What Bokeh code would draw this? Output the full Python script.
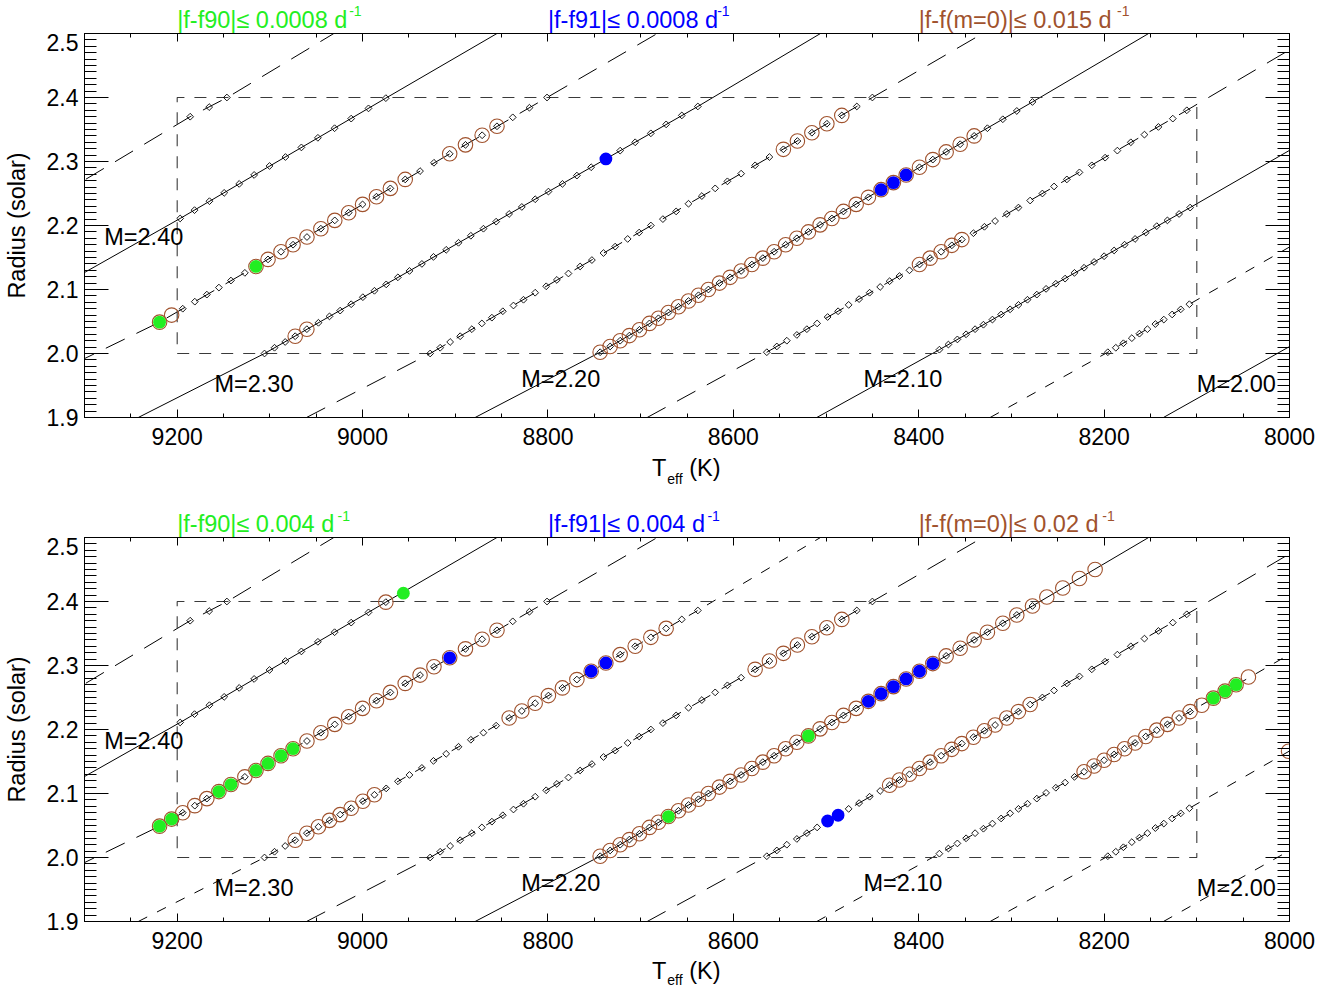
import numpy as np
from bokeh.plotting import figure
from bokeh.models import (Range1d, FixedTicker, LinearAxis,
                          PrintfTickFormatter, CustomJSTickFormatter)
from bokeh.core.properties import value
from bokeh.layouts import column
from bokeh.embed import file_html
from bokeh.resources import INLINE

# ------------------------------------------------------------------ data
x_major_ticks = [8000, 8200, 8400, 8600, 8800, 9000, 9200]
x_minor_ticks = [8050, 8100, 8150, 8250, 8300, 8350, 8450, 8500, 8550, 8650,
                 8700, 8750, 8850, 8900, 8950, 9050, 9100, 9150, 9250]
y_major_ticks = [1.9, 2.0, 2.1, 2.2, 2.3, 2.4, 2.5]
y_minor_ticks = [round(1.9 + 0.01 * i, 2) for i in range(61)]

box_T = [9200, 8100, 8100, 9200, 9200]
box_R = [2.0, 2.0, 2.4, 2.4, 2.0]

track_names = ["A", "B", "C", "D", "E", "F", "G", "H", "I", "J"]

# track curves (Teff, Radius) vertices
line_T = {
    "A": [9330, 9186, 9146, 9031],
    "B": [9330, 9196.8, 8974.9, 8855],
    "C": [9310, 9219, 8801, 8682],
    "D": [9242, 9105.8, 8638.3, 8506],
    "E": [9060.5, 8927.1, 8450, 8331],
    "F": [8878.6, 8743.7, 8277.3, 8152],
    "G": [8693, 8563.9, 8110.8, 7970],
    "H": [8510, 8377.7, 8107.2, 7781],
    "I": [8323, 8196, 8108, 7597],
    "J": [8136, 8001, 7400],
}
line_R = {
    "A": [2.245, 2.370, 2.400, 2.500],
    "B": [2.102, 2.211, 2.399, 2.500],
    "C": [1.985, 2.049, 2.400, 2.500],
    "D": [1.900, 2.000, 2.386, 2.500],
    "E": [1.900, 2.000, 2.400, 2.500],
    "F": [1.900, 2.002, 2.393, 2.500],
    "G": [1.900, 2.002, 2.380, 2.500],
    "H": [1.900, 2.006, 2.228, 2.500],
    "I": [1.900, 2.002, 2.077, 2.500],
    "J": [1.900, 2.010, 2.500],
}

# model points along each track
A_T = [9186, 9165.5, 9146.4]
A_R = [2.370, 2.385, 2.400]
B_T = [9196.8, 9181.3, 9165.2, 9149.3, 9133.1, 9117.0, 9100.4, 9083.2, 9066.0,
       9048.2, 9030.2, 9012.3, 8993.6, 8974.9, 8956.0]
B_R = [2.211, 2.224, 2.238, 2.251, 2.265, 2.279, 2.293, 2.307, 2.322, 2.337,
       2.352, 2.367, 2.383, 2.399, 2.413]
C_T = [9219, 9206, 9194, 9181, 9168, 9155, 9142, 9127, 9115, 9102, 9088, 9075,
       9060, 9045, 9030, 9015, 9000, 8985, 8970, 8954, 8938, 8923, 8906, 8889,
       8871, 8855, 8838, 8820, 8801]
C_R = [2.049, 2.060, 2.070, 2.081, 2.092, 2.103, 2.114, 2.126, 2.136, 2.147,
       2.159, 2.170, 2.182, 2.195, 2.208, 2.220, 2.233, 2.245, 2.258, 2.272,
       2.285, 2.298, 2.312, 2.326, 2.341, 2.355, 2.369, 2.384, 2.400]
D_T = [9105.8, 9095.0, 9083.5, 9072.7, 9060.1, 9047.6, 9035.7, 9024.2, 9012.3,
       8999.7, 8987.2, 8974.5, 8961.9, 8949.4, 8936.0, 8923.5, 8909.8, 8896.5,
       8883.2, 8869.6, 8855.9, 8841.9, 8828.2, 8813.8, 8799.5, 8784.4, 8768.8,
       8753.4, 8737.5, 8722.1, 8705.9, 8689.0, 8672.5, 8655.6, 8638.3]
D_R = [2.000, 2.009, 2.018, 2.027, 2.038, 2.048, 2.058, 2.067, 2.077, 2.088,
       2.098, 2.108, 2.119, 2.129, 2.140, 2.151, 2.162, 2.173, 2.184, 2.195,
       2.206, 2.218, 2.229, 2.241, 2.253, 2.265, 2.278, 2.291, 2.304, 2.317,
       2.330, 2.344, 2.358, 2.372, 2.386]
E_T = [8927.1, 8916.3, 8905.5, 8894.7, 8882.1, 8871.3, 8860.5, 8848.7, 8837.2,
       8826.4, 8813.8, 8801.9, 8790.4, 8777.9, 8765.3, 8752.6, 8740.1, 8727.5,
       8714.0, 8701.6, 8689.0, 8676.0, 8661.7, 8648.4, 8634.0, 8619.6, 8606.4,
       8591.6, 8576.5, 8561.1, 8546.0, 8530.9, 8515.3, 8499.1, 8483.0, 8466.8,
       8450.0]
E_R = [2.000, 2.009, 2.018, 2.027, 2.038, 2.047, 2.056, 2.066, 2.075, 2.084,
       2.095, 2.105, 2.115, 2.125, 2.136, 2.146, 2.157, 2.167, 2.179, 2.189,
       2.200, 2.210, 2.222, 2.234, 2.246, 2.258, 2.269, 2.281, 2.294, 2.307,
       2.319, 2.332, 2.345, 2.359, 2.372, 2.386, 2.400]
F_T = [8743.7, 8732.9, 8722.1, 8712.1, 8701.3, 8690.5, 8680.8, 8670.0, 8659.2,
       8648.4, 8637.6, 8626.9, 8615.0, 8603.5, 8591.6, 8580.0, 8568.2, 8556.0,
       8543.6, 8531.5, 8519.0, 8506.4, 8493.7, 8481.2, 8467.5, 8454.3, 8440.6,
       8427.3, 8413.6, 8399.2, 8384.8, 8370.4, 8355.3, 8340.2, 8325.9, 8309.3,
       8294.2, 8277.3, 8261.8, 8244.6, 8226.6, 8209.7]
F_R = [2.002, 2.011, 2.020, 2.028, 2.037, 2.047, 2.055, 2.064, 2.073, 2.082,
       2.091, 2.100, 2.110, 2.119, 2.129, 2.139, 2.149, 2.159, 2.170, 2.180,
       2.190, 2.201, 2.211, 2.222, 2.233, 2.244, 2.256, 2.267, 2.279, 2.291,
       2.303, 2.315, 2.327, 2.340, 2.352, 2.366, 2.379, 2.393, 2.407, 2.421,
       2.436, 2.450]
G_T = [8563.9, 8553.1, 8542.3, 8531.5, 8520.7, 8509.6, 8498.3, 8487.0, 8475.6,
       8464.3, 8453.0, 8441.6, 8431.4, 8420.8, 8410.0, 8399.2, 8387.7, 8375.8,
       8364.3, 8353.5, 8341.0, 8329.1, 8317.6, 8305.0, 8292.4, 8279.8, 8266.6,
       8254.0, 8240.2, 8226.6, 8213.3, 8198.9, 8185.7, 8171.2, 8156.5, 8141.4,
       8125.9, 8110.8]
G_R = [2.002, 2.011, 2.020, 2.029, 2.038, 2.047, 2.057, 2.066, 2.076, 2.085,
       2.095, 2.104, 2.113, 2.121, 2.130, 2.139, 2.149, 2.159, 2.169, 2.178,
       2.188, 2.198, 2.207, 2.218, 2.228, 2.239, 2.250, 2.261, 2.272, 2.283,
       2.294, 2.306, 2.317, 2.330, 2.342, 2.354, 2.367, 2.380]
H_T = [8377.7, 8368.0, 8358.3, 8348.9, 8339.2, 8330.2, 8320.5, 8311.1, 8301.4,
       8292.4, 8282.7, 8272.6, 8262.6, 8252.1, 8242.1, 8232.0, 8221.6, 8210.8,
       8200.0, 8189.2, 8177.9, 8166.6, 8155.0, 8143.2, 8131.7, 8119.1, 8107.2,
       8094.6, 8082.1, 8069.5, 8057.6, 8044.3]
H_R = [2.006, 2.014, 2.022, 2.030, 2.038, 2.045, 2.053, 2.061, 2.069, 2.076,
       2.084, 2.092, 2.101, 2.109, 2.117, 2.126, 2.134, 2.143, 2.152, 2.161,
       2.170, 2.179, 2.189, 2.199, 2.208, 2.218, 2.228, 2.238, 2.249, 2.260,
       2.270, 2.282]
I_T = [8196.0, 8187.4, 8179.2, 8170.1, 8161.9, 8153.3, 8144.7, 8135.6, 8126.6,
       8117.3, 8108.0, 8001.0]
I_R = [2.002, 2.009, 2.016, 2.024, 2.031, 2.038, 2.046, 2.053, 2.061, 2.069,
       2.077, 2.166]

model_T = {"A": A_T, "B": B_T, "C": C_T, "D": D_T, "E": E_T, "F": F_T,
           "G": G_T, "H": H_T, "I": I_T, "J": []}
model_R = {"A": A_R, "B": B_R, "C": C_R, "D": D_R, "E": E_R, "F": F_R,
           "G": G_R, "H": H_R, "I": I_R, "J": []}

mass_labels = ["M=2.40", "M=2.30", "M=2.20", "M=2.10", "M=2.00"]

# selected models (indices into each track's model list)
top_brown = {"C": [0, 1, 8, 9, 10, 11, 12, 13, 14, 15, 16, 17, 18, 19, 22, 23, 24, 25],
             "D": [3, 4], "E": [30, 31, 32, 33, 34], "F": list(range(0, 34)),
             "G": [15, 16, 17, 18, 19]}
top_green = {"C": [0, 8]}
top_blue = {"D": [28], "F": [26, 27, 28]}

bot_brown = {"B": [13], "C": list(range(0, 26)),
             "D": list(range(3, 11)) + list(range(21, 33)),
             "E": list(range(28, 35)), "F": list(range(0, 42)),
             "G": list(range(12, 26)), "H": list(range(16, 32)), "I": [11]}
bot_green = {"B": [14], "C": [0, 1, 5, 6, 8, 9, 10, 11], "F": [7, 20],
             "H": [28, 29, 30]}
bot_blue = {"C": [22], "D": [27, 28], "F": [25, 26, 27, 28, 29, 30], "G": [6, 7]}

top_titles = ["|f-f90|\u2264 0.0008 d", "|f-f91|\u2264 0.0008 d", "|f-f(m=0)|\u2264 0.015 d"]
bot_titles = ["|f-f90|\u2264 0.004 d", "|f-f91|\u2264 0.004 d", "|f-f(m=0)|\u2264 0.02 d"]
sup_text = ["-1", "-1", "-1"]
xtitle_main = ["T", "(K)"]
xtitle_sub = ["eff"]
ytitle = "Radius (solar)"

# ------------------------------------------------------------------ styles / layout
FONT = "Liberation Sans"
GREEN = "#22ee22"
BLUE = "#0000ff"
BROWN = "#a0522d"
SOLID = "solid"
LONG = "21 13"
SHORT = "10 11"
BOXDASH = "12 10"
W = 1325
BL, BR = 84, 36          # left / right borders -> frame 1205 px wide

top_dash = {"A": LONG, "B": SOLID, "C": LONG, "D": SOLID, "E": LONG,
            "F": SOLID, "G": LONG, "H": SOLID, "I": SHORT, "J": SOLID}
bot_dash = {"A": LONG, "B": SOLID, "C": LONG, "D": SHORT, "E": LONG,
            "F": SOLID, "G": LONG, "H": SHORT, "I": SHORT, "J": SHORT}

# text anchor positions (anchor = vertical centre of the glyphs)
mass_pos_T = [9278.7, 9159.8, 8828.9, 8459.7, 8100.0]
mass_pos_R = [2.1818, 1.9516, 1.9605, 1.9609, 1.9516]
title_x = [9200, 8800, 8400]
top_sup_x = [9014.5, 8617.5, 8186]
bot_sup_x = [9027, 8628, 8202]
title_colors = [GREEN, BLUE, BROWN]
xtitle_main_x = [8687.8, 8647.6]
xtitle_sub_x = [8671.3]


def inside_box(t, r):
    return (min(box_T) <= t <= max(box_T)) and (min(box_R) - 5e-4 <= r <= max(box_R) + 5e-4)


def pick(sel):
    xs, ys = [], []
    for name, idx in sel.items():
        for i in idx:
            xs.append(model_T[name][i])
            ys.append(model_R[name][i])
    return xs, ys


def strip(height, y_top):
    """Text strip: x in Teff (same scale as panels), y in page pixels."""
    s = figure(width=W, height=height,
               x_range=Range1d(9300, 8000), y_range=Range1d(y_top + height, y_top),
               output_backend="svg", toolbar_location=None,
               x_axis_location=None, y_axis_location=None,
               min_border=0, min_border_left=BL, min_border_right=BR,
               min_border_top=0, min_border_bottom=0)
    s.grid.visible = False
    s.outline_line_color = None
    s.background_fill_color = "white"
    s.border_fill_color = "white"
    return s


def add_titles(s, titles, sup_x, main_y, sup_y):
    s.text(x=title_x, y=[main_y] * 3, text=titles, text_color=title_colors,
           text_font=value(FONT), text_font_size=value("23.5px"),
           text_align="left", text_baseline="alphabetic")
    s.text(x=sup_x, y=[sup_y] * 3, text=sup_text, text_color=title_colors,
           text_font=value(FONT), text_font_size=value("14px"),
           text_align="left", text_baseline="alphabetic")


def add_xtitle(s, main_y, sub_y):
    s.text(x=xtitle_main_x, y=[main_y] * 2, text=xtitle_main, text_color="black",
           text_font=value(FONT), text_font_size=value("23.5px"),
           text_align="left", text_baseline="alphabetic")
    s.text(x=xtitle_sub_x, y=[sub_y], text=xtitle_sub, text_color="black",
           text_font=value(FONT), text_font_size=value("14px"),
           text_align="left", text_baseline="alphabetic")


def make_panel(dash, brown, green, blue):
    p = figure(width=W, height=420,
               x_range=Range1d(9300, 8000), y_range=Range1d(1.9, 2.5),
               output_backend="svg", toolbar_location=None,
               min_border=0, min_border_left=BL, min_border_right=BR,
               min_border_top=0, min_border_bottom=36)
    p.xgrid.visible = False
    p.ygrid.visible = False
    p.outline_line_color = "black"
    p.outline_line_width = 1
    p.background_fill_color = "white"
    p.border_fill_color = "white"

    xt = FixedTicker(ticks=x_major_ticks, minor_ticks=x_minor_ticks)
    yt = FixedTicker(ticks=y_major_ticks, minor_ticks=y_minor_ticks)

    for ax in p.xaxis:
        ax.ticker = xt
        ax.formatter = PrintfTickFormatter(format="%d")
        ax.major_label_text_font = FONT
        ax.major_label_text_font_size = "23px"
        ax.major_label_text_color = "black"
        ax.major_label_standoff = 10
        ax.major_tick_in, ax.major_tick_out = 8, 0
        ax.minor_tick_in, ax.minor_tick_out = 4, 0
        ax.axis_line_color = "black"
        ax.major_tick_line_color = "black"
        ax.minor_tick_line_color = "black"
    for ax in p.yaxis:
        ax.ticker = yt
        ax.formatter = PrintfTickFormatter(format="%.1f")
        ax.major_label_text_font = FONT
        ax.major_label_text_font_size = "23px"
        ax.major_label_text_color = "black"
        ax.major_label_standoff = 6
        ax.major_tick_in, ax.major_tick_out = 24, 0
        ax.minor_tick_in, ax.minor_tick_out = 12, 0
        ax.axis_line_color = "black"
        ax.major_tick_line_color = "black"
        ax.minor_tick_line_color = "black"
        ax.axis_label = ytitle
        ax.axis_label_text_font = FONT
        ax.axis_label_text_font_size = "23.5px"
        ax.axis_label_text_font_style = "normal"
        ax.axis_label_text_color = "black"
        ax.axis_label_standoff = 14

    blank = CustomJSTickFormatter(code="return ''")
    top_ax = LinearAxis(ticker=xt, formatter=blank, major_label_text_font_size="0px",
                        major_tick_in=8, major_tick_out=0, minor_tick_in=4, minor_tick_out=0,
                        major_label_standoff=0, axis_line_color="black")
    right_ax = LinearAxis(ticker=yt, formatter=blank, major_label_text_font_size="0px",
                          major_tick_in=24, major_tick_out=0, minor_tick_in=12, minor_tick_out=0,
                          major_label_standoff=0, axis_line_color="black")
    p.add_layout(top_ax, "above")
    p.add_layout(right_ax, "right")

    # tracks
    for name in track_names:
        p.line(line_T[name], line_R[name], line_color="black", line_width=1,
               line_dash=dash[name])
    # box
    p.line(box_T, box_R, line_color="#3a3a3a", line_width=1.1, line_dash=BOXDASH)

    # diamonds (models inside the box)
    dx, dy = [], []
    for name in track_names:
        for t, r in zip(model_T[name], model_R[name]):
            if inside_box(t, r):
                dx.append(t)
                dy.append(r)
    p.scatter(dx, dy, marker="square", angle=np.pi / 4, size=4.8,
              fill_color=None, line_color="black", line_width=0.9)

    bx, by = pick(brown)
    p.scatter(bx, by, marker="circle", size=14.5, fill_color=None,
              line_color=BROWN, line_width=1.1)
    gx, gy = pick(green)
    p.scatter(gx, gy, marker="circle", size=12.8, fill_color=GREEN, line_color=None)
    ux, uy = pick(blue)
    p.scatter(ux, uy, marker="circle", size=12.8, fill_color=BLUE, line_color=None)

    # mass labels
    p.text(x=mass_pos_T, y=mass_pos_R, text=mass_labels, text_color="black",
           text_font=value(FONT), text_font_size=value("23.5px"),
           text_align="left", text_baseline="alphabetic")
    return p


# page rows: s1 0-33 | p1 33-453 | s2 453-537 | p2 537-957 | s3 957-987
s1 = strip(33, 0)
add_titles(s1, top_titles, top_sup_x, 19.4, 10.9)

p1 = make_panel(top_dash, top_brown, top_green, top_blue)

s2 = strip(84, 453)
add_xtitle(s2, 467.3, 478.3)
add_titles(s2, bot_titles, bot_sup_x, 523.4, 515.4)

p2 = make_panel(bot_dash, bot_brown, bot_green, bot_blue)

s3 = strip(30, 957)
add_xtitle(s3, 970.8, 979.3)

page = column(s1, p1, s2, p2, s3, spacing=0)
open("out.html", "w").write(file_html(page, INLINE))
